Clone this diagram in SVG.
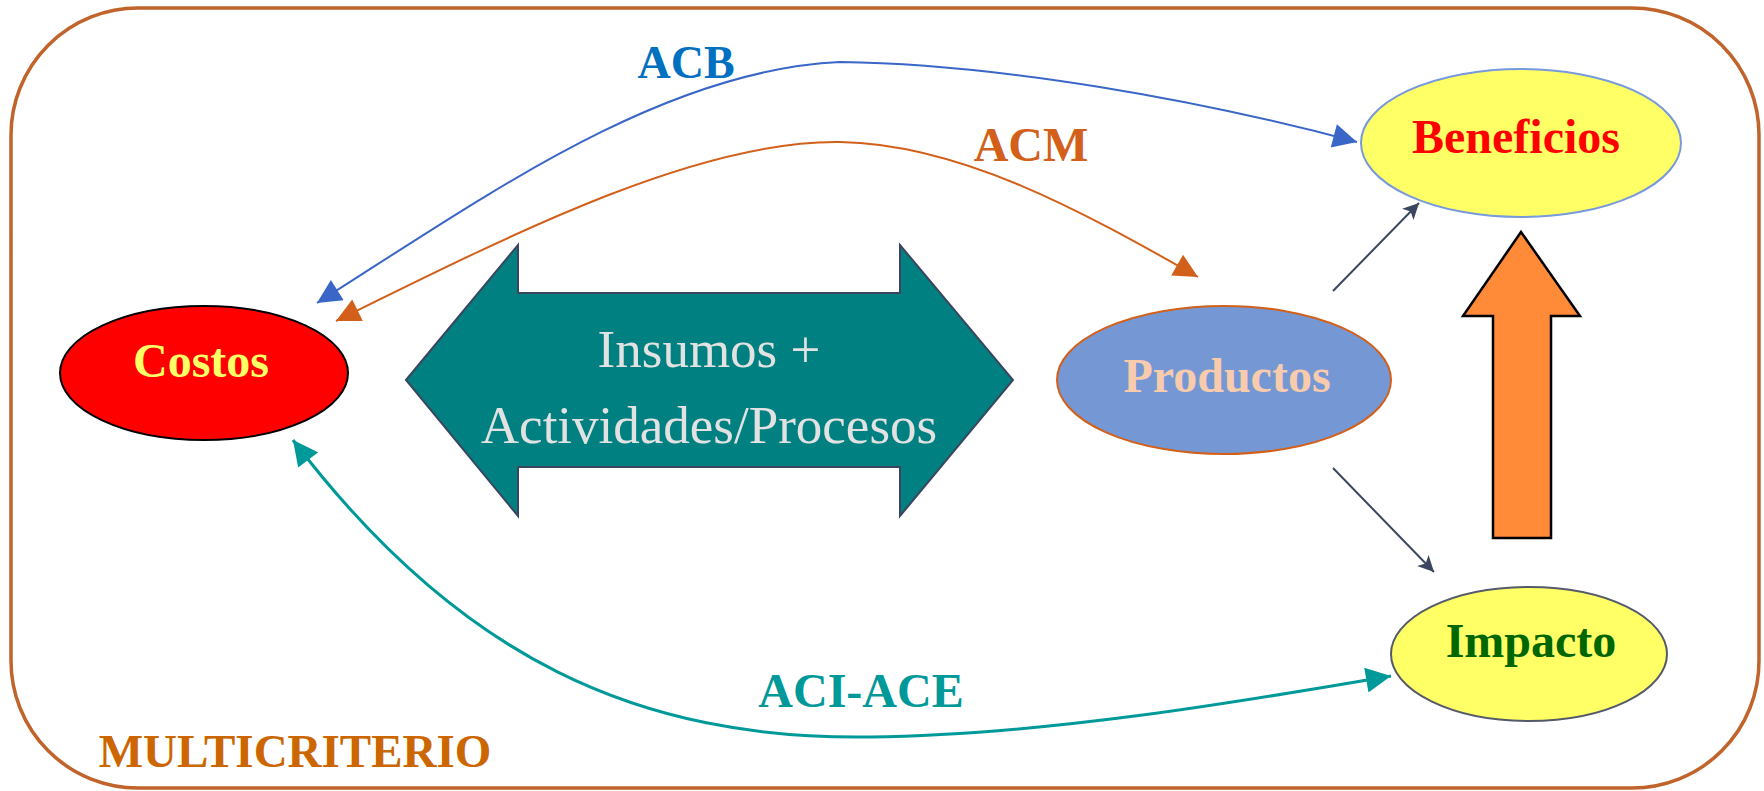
<svg xmlns="http://www.w3.org/2000/svg" width="1764" height="791" viewBox="0 0 1764 791">
<style>
.lbl{font-family:"Liberation Serif","Times New Roman",serif;font-weight:bold;text-anchor:middle}
.big{font-family:"Liberation Serif","Times New Roman",serif;font-size:53px;fill:#E2E2E2;text-anchor:middle}
</style>
<defs>
<marker id="mBlue" viewBox="0 0 10 10" refX="10" refY="5" markerWidth="27" markerHeight="24" markerUnits="userSpaceOnUse" orient="auto-start-reverse"><path d="M0,0 L10,5 L0,10 z" fill="#3A66C8"/></marker>
<marker id="mOrange" viewBox="0 0 10 10" refX="10" refY="5" markerWidth="27" markerHeight="24" markerUnits="userSpaceOnUse" orient="auto-start-reverse"><path d="M0,0 L10,5 L0,10 z" fill="#D2601A"/></marker>
<marker id="mTeal" viewBox="0 0 10 10" refX="10" refY="5" markerWidth="27" markerHeight="25" markerUnits="userSpaceOnUse" orient="auto-start-reverse"><path d="M0,0 L10,5 L0,10 z" fill="#009999"/></marker>
<marker id="mDark" viewBox="0 0 10 10" refX="10" refY="5" markerWidth="24" markerHeight="16" markerUnits="userSpaceOnUse" orient="auto"><path d="M0,0 L10,5 L0,10 L2.5,5 z" fill="#3A4660"/></marker>
</defs>

<rect id="frame" x="11" y="8" width="1748" height="780" rx="127" ry="127" fill="#FFFFFF" stroke="#C0642B" stroke-width="3.5"/>

<g id="insumos">
<path d="M406,380 L518,245 L518,293 L900,293 L900,245 L1013,380 L900,516 L900,467 L518,467 L518,516 Z" fill="#008080" stroke="#3A4660" stroke-width="2"/>
<text class="big" x="709" y="367">Insumos +</text>
<text class="big" x="709" y="443">Actividades/Procesos</text>
</g>

<g id="flecha-impacto-beneficios">
<path d="M1521,232 L1580,316 L1551,316 L1551,538 L1493,538 L1493,316 L1463,316 Z" fill="#FF8A38" stroke="#000000" stroke-width="2.5" stroke-linejoin="miter"/>
</g>

<g id="connectors" fill="none">
<path d="M317,303 C480,200 660,70 840,62 C1000,64 1200,100 1357,142" stroke="#3A66C8" stroke-width="2" marker-start="url(#mBlue)" marker-end="url(#mBlue)"/>
<path d="M336,321 C520,230 700,140 840,142 C960,144 1080,210 1198,277" stroke="#D2601A" stroke-width="2" marker-start="url(#mOrange)" marker-end="url(#mOrange)"/>
<path d="M293,440 C460,660 640,740 870,737 C1050,735 1250,700 1391,676" stroke="#009999" stroke-width="3" marker-start="url(#mTeal)" marker-end="url(#mTeal)"/>
<line x1="1333" y1="291" x2="1419" y2="203" stroke="#3A4660" stroke-width="2" marker-end="url(#mDark)"/>
<line x1="1333" y1="468" x2="1434" y2="572" stroke="#3A4660" stroke-width="2" marker-end="url(#mDark)"/>
</g>

<g id="costos">
<ellipse cx="204" cy="373" rx="144" ry="67" fill="#FF0000" stroke="#000000" stroke-width="2"/>
<text class="lbl" x="201" y="377" font-size="48" fill="#FFFF66">Costos</text>
</g>

<g id="productos">
<ellipse cx="1224" cy="380" rx="167" ry="74" fill="#7598D5" stroke="#D2601A" stroke-width="2"/>
<text class="lbl" x="1227" y="392" font-size="48" fill="#F8CBAD">Productos</text>
</g>

<g id="beneficios">
<ellipse cx="1521" cy="143" rx="160" ry="74" fill="#FFFF66" stroke="#7799DD" stroke-width="2"/>
<text class="lbl" x="1516" y="153" font-size="48" fill="#FF0000">Beneficios</text>
</g>

<g id="impacto">
<ellipse cx="1529" cy="654" rx="138" ry="67" fill="#FFFF66" stroke="#555A6A" stroke-width="2"/>
<text class="lbl" x="1531" y="657" font-size="48" fill="#006600">Impacto</text>
</g>

<g id="labels">
<text class="lbl" x="686" y="78" font-size="46" fill="#0070C0">ACB</text>
<text class="lbl" x="1031" y="161" font-size="48" fill="#D2601A">ACM</text>
<text class="lbl" x="861" y="707" font-size="48" fill="#009999">ACI-ACE</text>
<text class="lbl" x="295" y="767" font-size="47" fill="#CC6600">MULTICRITERIO</text>
</g>
</svg>
